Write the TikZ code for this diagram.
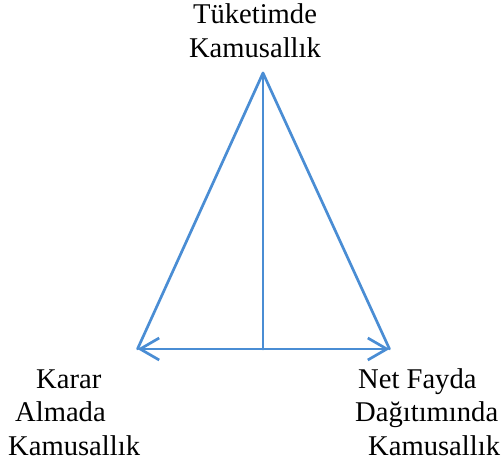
\documentclass[tikz,border=0pt]{standalone}
\usepackage{fontspec}
\setmainfont{Liberation Serif}
\usetikzlibrary{arrows.meta}
\definecolor{lineblue}{HTML}{4A8DD4}
\begin{document}
\begin{tikzpicture}[x=1pt,y=-1pt,
  conn/.style={draw=lineblue, line width=2.7pt, line cap=round, line join=round},
  barb/.style={-{Straight Barb[length=19pt,width=22pt]}},
  lbl/.style={font=\fontsize{28.6}{33.5}\selectfont, inner sep=0pt, anchor=base west, align=left},
  toplbl/.style={font=\fontsize{28.6}{33.5}\selectfont, inner sep=0pt, anchor=base, align=center}]
\useasboundingbox (0,0) rectangle (504,464);
\coordinate (apex) at (263,73);
\coordinate (base) at (263,349);
\coordinate (lt) at (137.5,349);
\coordinate (rt) at (389.5,349);
\draw[conn] (apex) -- (lt);
\draw[conn] (apex) -- (rt);
\draw[conn] (base) -- (apex);
\draw[conn, barb] (base) -- (lt);
\draw[conn, barb] (base) -- (rt);
\node[toplbl] (top) at (255,57) {Tüketimde\\Kamusallık};
\node[lbl] (left) at (8,455) {\hspace*{28pt}Karar\\\hspace*{7pt}Almada\\Kamusallık};
\node[lbl] (right) at (355,455) {\hspace*{3pt}Net Fayda\\Dağıtımında\\\hspace*{13pt}Kamusallık};
\end{tikzpicture}
\end{document}
